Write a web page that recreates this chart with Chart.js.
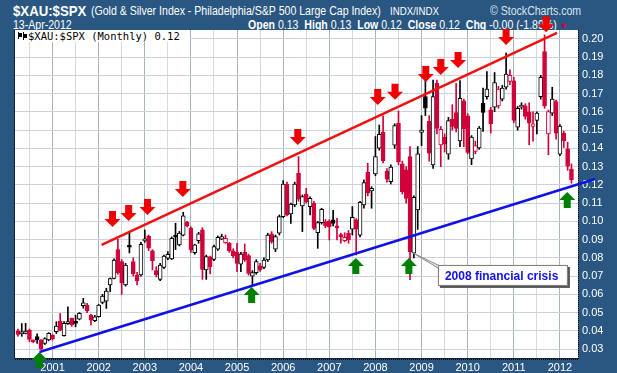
<!DOCTYPE html>
<html>
<head>
<meta charset="utf-8">
<script src="https://cdn.jsdelivr.net/npm/chart.js@4.4.1/dist/chart.umd.min.js"></script>
<style>
  body { margin: 0; background: #2a5782; }
  #page { position: relative; width: 617px; height: 373px; overflow: hidden; background: #2a5782;
          font-family: "Liberation Sans", Arial, sans-serif; color: #fff; }
  .hd { position: absolute; white-space: nowrap; line-height: 1; transform-origin: 0 0; transform: scaleX(0.88); }
  #chart { position: absolute; left: 0; top: 0; z-index: 1; }
  #legend { position: absolute; left: 15px; top: 30px; width: 175px; height: 12px; background: #fff; z-index: 2;
            color: #000; font: 10.5px "DejaVu Sans Mono", monospace; line-height: 12px; white-space: nowrap; }
  #legend i { display: inline-block; vertical-align: top; background: #000; }
</style>
</head>
<body>
<div id="page">
  <div class="hd" style="left:13px;top:3px;font-size:15px;font-weight:bold">$XAU:$SPX</div>
  <div class="hd" style="left:91px;top:5px;font-size:12px">(Gold &amp; Silver Index - Philadelphia/S&amp;P 500 Large Cap Index)</div>
  <div class="hd" style="left:390px;top:6px;font-size:11px">INDX/INDX</div>
  <div class="hd" style="left:490px;top:5px;font-size:12px;color:#dbe4ee">&copy; StockCharts.com</div>
  <div class="hd" style="left:13px;top:19px;font-size:12px">13-Apr-2012</div>
  <div class="hd" style="left:248px;top:19px;font-size:12px"><b>Open</b> 0.13 &nbsp;<b>High</b> 0.13 &nbsp;<b>Low</b> 0.12 &nbsp;<b>Close</b> 0.12 &nbsp;<b>Chg</b> -0.00 (-1.89%) <span style="color:#d1003a;font-size:9px">&#9660;</span></div>
  <canvas id="chart" width="617" height="373"></canvas>
  <div id="legend"><i style="width:1px;height:7px;margin:2px 0 0 3px"></i><i style="width:3px;height:4px;margin:3px 1px 0 0"></i><i style="width:1px;height:8px;margin:2px 0 0 0"></i><i style="width:3px;height:4px;margin:4px 1px 0 0"></i>$XAU:$SPX (Monthly) 0.12</div>
</div>
<script>
// monthly candles, first one is Apr 2000 (month index 0 = Jan 2000)
const firstMonth = 3;
const opens = [
  .0400, .0383, .0386, .0404, .0342, .0368, .0349, .0331, .0350,
  .0377, .0395, .0453, .0373, .0439, .0468, .0443, .0464, .0538, .0541, .0486, .0455,
  .0477, .0556, .0563, .0652, .0687, .0846, .0779, .0651, .0868, .0779, .0706, .0706,
  .0893, .0920, .0838, .0730, .0682, .0748, .0798, .0794, .0920, .0871, .0925, .0995,
  .0962, .0829, .0894, .0953, .0734, .0805, .0792, .0847, .0902, .0883, .0880, .0838,
  .0830, .0766, .0830, .0812, .0700, .0719, .0756, .0748, .0788, .0931, .0847, .0935,
  .1026, .1205, .1041, .1090, .1263, .1084, .1150, .1081, .1099, .0938, .0993, .0998,
  .1000, .1008, .0968, .0925, .0894, .0935, .0957, .1008, .0925, .1090, .1269, .1167,
  .1260, .1401, .1488, .1276, .1218, .1417, .1538, .1315, .1282, .1355, .0826, .1063,
  .1488, .1684, .1548, .1310, .1757, .1419, .1460, .1369, .1560, .1596, .1441, .1661,
  .1579, .1342, .1384, .1402, .1648, .1684, .1611, .1626, .1633, .1670, .1736, .1767,
  .1771, .1516, .1626, .1633, .1600, .1520, .1553, .1684, .1931, .1480, .1593, .1657,
  .1368, .1484, .1397, .1287
];
const highs = [
  .0410, .0440, .0441, .0410, .0350, .0383, .0352, .0362, .0390,
  .0380, .0450, .0495, .0450, .0532, .0470, .0486, .0500, .0578, .0550, .0490, .0485,
  .0545, .0600, .0633, .0690, .0795, .0901, .0790, .0770, .0944, .0800, .0720, .0885,
  .0953, .0925, .0845, .0752, .0770, .0815, .0835, .0915, .0990, .0945, .1050, .1000,
  .0970, .0875, .0940, .0965, .0815, .0810, .0870, .0920, .0930, .0925, .0885, .0850,
  .0880, .0830, .0876, .0820, .0730, .0790, .0770, .0800, .0935, .0944, .0925, .1035,
  .1223, .1215, .1100, .1215, .1355, .1145, .1181, .1135, .1110, .1000, .1072, .1010,
  .1010, .1060, .1017, .0935, .0938, .0950, .1081, .1015, .1110, .1228, .1318, .1190,
  .1465, .1528, .1578, .1290, .1310, .1535, .1605, .1330, .1300, .1410, .1140, .1410,
  .1580, .1775, .1580, .1775, .1775, .1520, .1480, .1570, .1640, .1757, .1772, .1670,
  .1590, .1470, .1440, .1520, .1730, .1821, .1625, .1816, .1740, .1745, .1922, .1830,
  .1790, .1630, .1650, .1645, .1650, .1600, .1600, .1800, .2022, .1610, .1735, .1665,
  .1530, .1495, .1434, .1315
];
const lows = [
  .0370, .0370, .0383, .0340, .0335, .0331, .0298, .0325, .0345,
  .0350, .0385, .0400, .0370, .0435, .0425, .0422, .0460, .0524, .0500, .0432, .0450,
  .0475, .0548, .0523, .0614, .0685, .0710, .0600, .0645, .0827, .0700, .0651, .0700,
  .0885, .0840, .0734, .0695, .0675, .0740, .0790, .0790, .0845, .0865, .0920, .0970,
  .0830, .0820, .0880, .0682, .0682, .0712, .0785, .0840, .0900, .0880, .0830, .0800,
  .0724, .0724, .0780, .0705, .0651, .0710, .0725, .0740, .0780, .0880, .0834, .0925,
  .1020, .1030, .0989, .1080, .1110, .0944, .1100, .1035, .0955, .0852, .0985, .0965,
  .0898, .0975, .0898, .0880, .0889, .0880, .0925, .0816, .0915, .1072, .1140, .1072,
  .1250, .1390, .1320, .1215, .1205, .1400, .1310, .1150, .1100, .0680, .0800, .0956,
  .1415, .1580, .1330, .1290, .1480, .1300, .1380, .1340, .1500, .1490, .1410, .1410,
  .1370, .1311, .1370, .1395, .1493, .1670, .1484, .1602, .1620, .1660, .1725, .1750,
  .1540, .1500, .1615, .1560, .1420, .1440, .1480, .1670, .1620, .1365, .1580, .1450,
  .1360, .1405, .1280, .1209
];
const closes = [
  .0380, .0395, .0399, .0353, .0340, .0350, .0300, .0358, .0386,
  .0355, .0426, .0404, .0441, .0450, .0432, .0441, .0496, .0554, .0510, .0459, .0477,
  .0541, .0591, .0618, .0687, .0788, .0718, .0664, .0761, .0858, .0712, .0675, .0874,
  .0904, .0853, .0785, .0706, .0761, .0810, .0819, .0907, .0914, .0936, .1031, .0975,
  .0843, .0871, .0931, .0737, .0807, .0752, .0862, .0913, .0916, .0907, .0840, .0810,
  .0770, .0821, .0788, .0715, .0719, .0779, .0734, .0788, .0925, .0889, .0916, .1026,
  .1205, .1035, .1095, .1205, .1121, .1136, .1108, .1126, .0962, .0993, .1066, .0975,
  .0970, .0989, .0964, .0916, .0912, .0898, .1022, .0957, .1104, .1212, .1154, .1181,
  .1355, .1477, .1333, .1231, .1297, .1525, .1327, .1163, .1126, .0834, .1132, .1370,
  .1501, .1620, .1374, .1684, .1510, .1505, .1424, .1552, .1520, .1510, .1675, .1508,
  .1378, .1462, .1415, .1511, .1597, .1725, .1535, .1761, .1725, .1730, .1807, .1800,
  .1553, .1620, .1638, .1575, .1540, .1535, .1593, .1789, .1633, .1602, .1670, .1484,
  .1523, .1443, .1302, .1228
];

const yearLabels = ['2001', '2002', '2003', '2004', '2005', '2006', '2007', '2008', '2009', '2010', '2011', '2012'];

// trend lines: [month index, ratio]
const resistanceLine = [[24.77, .0871], [143.25, .2033]];
const supportLine = [[8.62, .0284], [153.15, .1232]];

// arrow tips: [month index, ratio]
const sellArrows = [[27.6, .0969], [31.8, .1002], [36.7, .1035], [45.9, .1134], [75.8, .1419], [96.6, .1638],
                    [101.1, .1666], [109.1, .1764], [113.0, .1803], [117.5, .1841], [130.0, .1967], [140.4, .2036]];
const buyArrows = [[8.6, .0284], [63.8, .0640], [90.9, .0799], [104.7, .0799], [145.9, .1161]];

// where the "2008 financial crisis" callout points
const crisisPoint = [105.75, .0827];
const crisisText = '2008 financial crisis';

const RED = '#d1003a';
const months = opens.map((_, i) => firstMonth + i);

// stockcharts colouring: black/red vs previous close, hollow when close > open
const candleColor = closes.map((c, i) => (i === 0 ? c >= opens[0] : c >= closes[i - 1]) ? '#000' : RED);
const bodyFill = closes.map((c, i) => c > opens[i] ? '#fff' : candleColor[i]);

const bgPlugin = {
  id: 'plotBg',
  beforeDraw(chart) {
    const a = chart.chartArea, ctx = chart.ctx;
    ctx.save();
    ctx.fillStyle = '#fff';
    ctx.fillRect(a.left, a.top, a.right - a.left, a.bottom - a.top);
    ctx.restore();
  }
};

const framePlugin = {
  id: 'frame',
  afterDatasetsDraw(chart) {
    const a = chart.chartArea, ctx = chart.ctx;
    ctx.save();
    ctx.strokeStyle = '#0e2238';
    ctx.lineWidth = 1;
    ctx.beginPath();
    ctx.moveTo(a.left - 0.5, a.top);
    ctx.lineTo(a.left - 0.5, a.bottom + 1);
    ctx.moveTo(a.left - 1, a.bottom + 0.5);
    ctx.lineTo(a.right, a.bottom + 0.5);
    ctx.stroke();
    ctx.setLineDash([1, 1]);
    ctx.strokeStyle = '#000';
    ctx.beginPath();
    ctx.moveTo(a.left, a.bottom + 1.5);
    ctx.lineTo(a.right, a.bottom + 1.5);
    ctx.moveTo(a.right + 0.5, a.top);
    ctx.lineTo(a.right + 0.5, a.bottom + 2);
    ctx.stroke();
    ctx.restore();
  }
};

const arrowPlugin = {
  id: 'arrows',
  afterDraw(chart) {
    const ctx = chart.ctx, xs = chart.scales.x, ys = chart.scales.y;
    const draw = (pt, dir, color) => {
      const x = xs.getPixelForValue(pt[0]), y = ys.getPixelForValue(pt[1]);
      ctx.fillStyle = color;
      ctx.beginPath();
      ctx.moveTo(x, y);
      ctx.lineTo(x + 8, y - dir * 8);
      ctx.lineTo(x + 3.5, y - dir * 8);
      ctx.lineTo(x + 3.5, y - dir * 16);
      ctx.lineTo(x - 3.5, y - dir * 16);
      ctx.lineTo(x - 3.5, y - dir * 8);
      ctx.lineTo(x - 8, y - dir * 8);
      ctx.closePath();
      ctx.fill();
    };
    ctx.save();
    sellArrows.forEach(p => draw(p, 1, '#f00000'));
    buyArrows.forEach(p => draw(p, -1, '#008000'));
    ctx.restore();
  }
};

const calloutPlugin = {
  id: 'callout',
  afterDraw(chart) {
    const ctx = chart.ctx;
    const px = chart.scales.x.getPixelForValue(crisisPoint[0]);
    const py = chart.scales.y.getPixelForValue(crisisPoint[1]);
    const bx = px + 25, by = py + 12, bw = 130, bh = 21;
    ctx.save();
    ctx.fillStyle = '#e6e6e6';
    ctx.strokeStyle = '#8a8a8a';
    ctx.lineWidth = 1;
    ctx.beginPath();
    ctx.moveTo(px, py);
    ctx.lineTo(bx + 6, by + 3);
    ctx.lineTo(bx + 10, by + 9);
    ctx.closePath();
    ctx.fill();
    ctx.stroke();
    ctx.fillStyle = '#555';
    ctx.fillRect(bx + 2, by + 2, bw, bh);
    ctx.fillStyle = '#fff';
    ctx.fillRect(bx, by, bw, bh);
    ctx.strokeStyle = '#777';
    ctx.strokeRect(bx + 0.5, by + 0.5, bw - 1, bh - 1);
    ctx.fillStyle = '#1010f0';
    ctx.font = 'bold 12px "Liberation Sans", Arial, sans-serif';
    ctx.textBaseline = 'middle';
    ctx.fillText(crisisText, bx + 7, by + bh / 2 + 1);
    ctx.restore();
  }
};

new Chart(document.getElementById('chart'), {
  type: 'bar',
  data: {
    datasets: [
      {
        type: 'line',
        data: resistanceLine.map(p => ({ x: p[0], y: p[1] })),
        borderColor: '#f01010',
        borderWidth: 2.5,
        pointRadius: 0,
        clip: false,
        order: 0
      },
      {
        type: 'line',
        data: supportLine.map(p => ({ x: p[0], y: p[1] })),
        borderColor: '#1010e8',
        borderWidth: 2.5,
        pointRadius: 0,
        clip: false,
        order: 0
      },
      {
        // candle bodies
        data: months.map((m, i) => ({ x: m, y: [opens[i], closes[i]] })),
        backgroundColor: bodyFill,
        borderColor: candleColor,
        borderWidth: 1,
        borderSkipped: false,
        barThickness: 4,
        minBarLength: 2,
        grouped: false,
        order: 1
      },
      {
        // wicks
        data: months.map((m, i) => ({ x: m, y: [lows[i], highs[i]] })),
        backgroundColor: candleColor,
        borderWidth: 0,
        barThickness: 1,
        grouped: false,
        order: 2
      }
    ]
  },
  options: {
    responsive: false,
    animation: false,
    layout: { padding: { left: 15, top: 30, right: 0, bottom: 0 } },
    plugins: { legend: { display: false }, tooltip: { enabled: false } },
    scales: {
      x: {
        type: 'linear',
        min: 2.24,
        max: 148.7,
        offset: false,
        grid: {
          offset: false,
          drawTicks: false,
          color: ctx => (ctx.tick && ctx.tick.value % 12 === 0) ? '#a9b1be' : '#d4d8e1'
        },
        border: { display: false },
        ticks: {
          stepSize: 6,
          includeBounds: false,
          autoSkip: false,
          maxRotation: 0,
          padding: 3,
          color: '#fff',
          font: { family: '"Liberation Sans", Arial, sans-serif', size: 11 },
          callback: v => v % 12 === 0 ? (yearLabels[v / 12 - 1] || '') : ''
        },
        afterFit: s => { s.height = 15; }
      },
      y: {
        position: 'right',
        min: .0251,
        max: .2049,
        grid: { drawTicks: false, color: '#cdd1dc' },
        border: { display: false },
        ticks: {
          stepSize: .01,
          includeBounds: false,
          padding: 4,
          color: '#fff',
          font: { family: '"Liberation Sans", Arial, sans-serif', size: 11 },
          callback: v => v.toFixed(2)
        },
        afterFit: s => { s.width = 39; }
      }
    }
  },
  plugins: [bgPlugin, framePlugin, arrowPlugin, calloutPlugin]
});
</script>
</body>
</html>
